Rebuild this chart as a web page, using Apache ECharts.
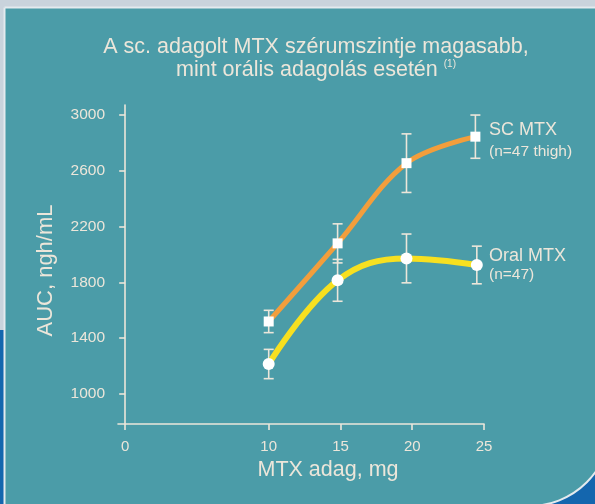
<!DOCTYPE html>
<html>
<head>
<meta charset="utf-8">
<script src="https://cdn.jsdelivr.net/npm/echarts@6/dist/echarts.min.js"></script>
<style>
html,body{margin:0;padding:0;background:#c9d3dc;}
#c{width:595px;height:504px;}
</style>
</head>
<body>
<div id="c"></div>
<script>
// Data
const scDose   = [10, 14.8, 19.6, 24.4];
const scMean   = [1520, 2080, 2655, 2845];
const scErr    = [80, 140, 210, 155];
const oralDose = [10, 14.8, 19.6, 24.5];
const oralMean = [1215, 1815, 1972, 1925];
const oralErr  = [105, 150, 175, 135];
const xTicks = [0, 10, 15, 20, 25];
const yTicks = [1000, 1400, 1800, 2200, 2600, 3000];

const fg = '#ece6da';
const font = 'Liberation Sans, Arial, sans-serif';

function errData(xs, m, e) {
  return xs.map((x, i) => [x, m[i] - e[i], m[i] + e[i]]);
}
function errRender(params, api) {
  const x = api.value(0);
  const lo = api.coord([x, api.value(1)]);
  const hi = api.coord([x, api.value(2)]);
  const w = 5;
  const st = {stroke: fg, lineWidth: 1.6};
  return {type: 'group', children: [
    {type: 'line', shape: {x1: lo[0], y1: lo[1], x2: hi[0], y2: hi[1]}, style: st},
    {type: 'line', shape: {x1: lo[0]-w, y1: lo[1], x2: lo[0]+w, y2: lo[1]}, style: st},
    {type: 'line', shape: {x1: hi[0]-w, y1: hi[1], x2: hi[0]+w, y2: hi[1]}, style: st}
  ]};
}

const chart = echarts.init(document.getElementById('c'));
chart.setOption({
  backgroundColor: '#c9d3dc',
  animation: false,
  graphic: [
    {type: 'rect', z: -10, silent: true, shape: {x: 0, y: 330, width: 595, height: 174}, style: {fill: '#1466ae'}},
    {type: 'rect', z: -9, silent: true, shape: {x: 4.5, y: 7.5, width: 606, height: 498.5, r: [0, 0, 81, 0]}, style: {fill: '#4b9ca8', stroke: '#e4eaee', lineWidth: 2}},
    {type: 'text', left: 489, top: 121, silent: true, style: {text: 'SC MTX', fill: fg, font: '18px ' + font}},
    {type: 'text', left: 489, top: 144, silent: true, style: {text: '(n=47 thigh)', fill: fg, font: '15.5px ' + font}},
    {type: 'text', left: 489, top: 247, silent: true, style: {text: 'Oral MTX', fill: fg, font: '18px ' + font}},
    {type: 'text', left: 489, top: 267, silent: true, style: {text: '(n=47)', fill: fg, font: '15.5px ' + font}}
  ],
  title: {
    text: 'A sc. adagolt MTX szérumszintje magasabb,\nmint orális adagolás esetén {sup|(1)}',
    left: 311, top: 31, textAlign: 'center',
    textStyle: {
      color: fg, fontFamily: font, fontSize: 21.5, fontWeight: 'normal', lineHeight: 23,
      rich: {sup: {fontSize: 10, color: fg, verticalAlign: 'top', lineHeight: 12, padding: [0, 0, 10, 0]}}
    }
  },
  grid: {left: 118, right: 111, top: 105, bottom: 80},
  xAxis: {
    type: 'value', min: -0.5, max: 25,
    name: 'MTX adag, mg', nameLocation: 'middle', nameGap: 34,
    nameTextStyle: {color: fg, fontFamily: font, fontSize: 21.5, padding: [0, 0, 0, 54]},
    axisLine: {show: true, lineStyle: {color: fg, width: 1.6}},
    axisTick: {show: true, length: 6, lineStyle: {color: fg, width: 1.6}, customValues: xTicks},
    axisLabel: {color: fg, fontFamily: font, fontSize: 15, margin: 15, customValues: xTicks, formatter: v => String(v)},
    splitLine: {show: false}
  },
  yAxis: {
    type: 'value', min: 785, max: 3072,
    name: 'AUC, ngh/mL', nameLocation: 'middle', nameGap: 61, nameRotate: 90,
    nameTextStyle: {color: fg, fontFamily: font, fontSize: 22, padding: [0, 12, 0, 0]},
    axisLine: {show: true, onZero: true, lineStyle: {color: fg, width: 1.6}},
    axisTick: {show: true, length: 6, lineStyle: {color: fg, width: 1.6}, customValues: yTicks},
    axisLabel: {color: fg, fontFamily: font, fontSize: 15.5, margin: 13, customValues: yTicks, formatter: v => String(v)},
    splitLine: {show: false}
  },
  series: [
    {type: 'custom', renderItem: errRender, data: errData(scDose, scMean, scErr), z: 3, silent: true},
    {type: 'custom', renderItem: errRender, data: errData(oralDose, oralMean, oralErr), z: 3, silent: true},
    {
      type: 'line', data: scDose.map((x, i) => [x, scMean[i]]), smooth: 0.35,
      lineStyle: {color: '#f29e3c', width: 5}, itemStyle: {color: '#ffffff'},
      symbol: 'rect', symbolSize: 10, showAllSymbol: true, z: 4
    },
    {
      type: 'line', data: oralDose.map((x, i) => [x, oralMean[i]]), smooth: 0.4,
      lineStyle: {color: '#f7e020', width: 6}, itemStyle: {color: '#ffffff'},
      symbol: 'circle', symbolSize: 12, showAllSymbol: true, z: 4
    }
  ]
});
</script>
</body>
</html>
